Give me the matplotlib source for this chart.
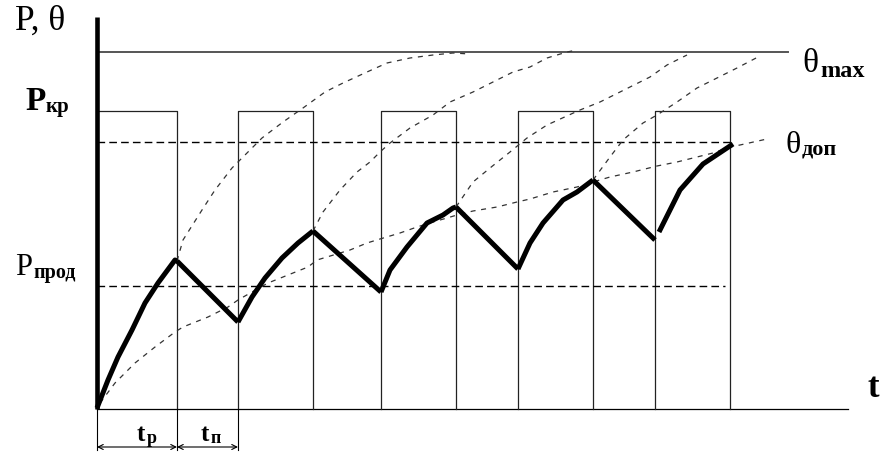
import numpy as np
import matplotlib
matplotlib.use("Agg")
import matplotlib.pyplot as plt

plt.rcParams['font.family'] = ['Liberation Serif', 'DejaVu Serif']

# levels (t measured from origin, theta upward from the t axis)
P_kr = 298
P_prod = 123
theta_max = 357
theta_dop = 267

# pulse edges: (on, off)
pulses = [(0, 80), (141, 216), (284, 359), (421, 496), (558, 633)]

# thick temperature curve, heating / cooling pieces
heat1_t = [0, 11, 21, 35, 48, 61, 78, 80]
heat1_v = [1, 29, 52, 79, 106, 126, 149, 148]
cool1_t = [80, 141]
cool1_v = [148, 87]
heat2_t = [141, 155, 168, 185, 201, 216]
heat2_v = [87, 112, 131, 151, 166, 178]
cool2_t = [216, 284]
cool2_v = [178, 117]
heat3_t = [284, 293, 310, 330, 346, 356, 359]
heat3_v = [117, 139, 162, 186, 194, 201, 202]
cool3_t = [359, 421]
cool3_v = [202, 140]
heat4_t = [421, 433, 446, 466, 480, 496]
heat4_v = [140, 166, 186, 209, 217, 229]
cool4_t = [496, 558]
cool4_v = [229, 169]
heat5_t = [562, 583, 606, 636]
heat5_v = [177, 219, 245, 265]

# dashed continuation curves (heating without switching off)
curveA_t = [80, 86, 105, 118, 135, 143, 165, 186, 206, 228, 246, 270, 290, 313, 336, 356, 373]
curveA_v = [148, 169, 199, 219, 241, 249, 271, 287, 301, 317, 326, 337, 346, 351, 354, 356, 355]
curveB_t = [216, 226, 243, 260, 273, 283, 293, 313, 336, 353, 376, 396, 416, 433, 450, 470, 480]
curveB_v = [178, 197, 219, 237, 247, 257, 266, 281, 294, 307, 317, 327, 337, 342, 351, 357, 359]
curveC_t = [359, 376, 393, 413, 430, 450, 483, 503, 523, 553, 570, 590]
curveC_v = [202, 227, 241, 257, 271, 284, 299, 307, 317, 332, 344, 354]
curveD_t = [496, 513, 526, 546, 560, 580, 600, 620, 640, 661]
curveD_v = [229, 252, 269, 286, 294, 307, 321, 331, 341, 352]
# slow curve from the origin
curveE_t = [3, 18, 38, 58, 78, 86, 111, 131, 141, 155, 171, 191, 211, 220, 253, 270, 283,
            303, 320, 336, 350, 360, 376, 400, 420, 433, 456, 480, 496, 513, 536, 560,
            580, 600, 616, 633, 643, 670]
curveE_v = [6, 26, 46, 62, 77, 82, 92, 102, 109, 117, 126, 134, 142, 149, 159, 166, 170,
            176, 182, 187, 191, 194, 198, 202, 207, 210, 217, 222, 227, 232, 237, 243,
            247, 252, 256, 262, 264, 270]

fig = plt.figure(figsize=(8.88, 4.59), dpi=100)
ax = fig.add_axes([0, 0, 1, 1])
ax.set_xlim(-97, 791)
ax.set_ylim(-50, 409)
ax.axis('off')

# axes
ax.plot([0, 0], [0, 392], color='black', lw=3.3, solid_capstyle='butt', zorder=5)
ax.plot([0, 751], [0, 0], color='black', lw=0.9)

# theta max level
ax.plot([0, 691], [theta_max, theta_max], color='#555555', lw=1.4)

# pulses
for a, b in pulses:
    ax.plot([a, a, b, b], [0, P_kr, P_kr, 0], color='#222222', lw=0.9)

# horizontal dashed levels
ax.plot([0, 633], [theta_dop, theta_dop], color='black', lw=1.0, linestyle=(0, (5.5, 3)))
ax.plot([0, 628], [P_prod, P_prod], color='black', lw=1.0, linestyle=(0, (5.5, 3)))

# dashed curves
for ct, cv in [(curveA_t, curveA_v), (curveB_t, curveB_v), (curveC_t, curveC_v),
               (curveD_t, curveD_v), (curveE_t, curveE_v)]:
    ax.plot(ct, cv, color='#333333', lw=0.9, linestyle=(0, (4, 4.5)))

# thick curve
for ct, cv in [(heat1_t, heat1_v), (cool1_t, cool1_v), (heat2_t, heat2_v), (cool2_t, cool2_v),
               (heat3_t, heat3_v), (cool3_t, cool3_v), (heat4_t, heat4_v), (cool4_t, cool4_v),
               (heat5_t, heat5_v)]:
    ax.plot(ct, cv, color='black', lw=3.6, solid_capstyle='butt', solid_joinstyle='round', zorder=6)

# dimension lines for t_p and t_n
for xv in [0, 80, 141]:
    ax.plot([xv, xv], [0, -41], color='black', lw=0.8)
for a, b in [(0, 80), (80, 141)]:
    ax.annotate('', xy=(a, -38), xytext=(b, -38),
                arrowprops=dict(arrowstyle='<->', lw=0.8, shrinkA=0, shrinkB=0, mutation_scale=9))

# labels
ax.text(-82, 379, 'P, θ', fontsize=25.5, ha='left', va='baseline')
ax.text(-72, 299, 'P', fontsize=24, fontweight='bold', ha='left', va='baseline')
ax.text(-51, 297, 'кр', fontsize=15, fontweight='bold', ha='left', va='baseline')
ax.text(-82, 134, 'P', fontsize=22, ha='left', va='baseline')
ax.text(-64, 131, 'прод', fontsize=14.5, fontweight='bold', ha='left', va='baseline')
ax.text(705, 337, 'θ', fontsize=24, ha='left', va='baseline')
ax.text(723, 332, 'max', fontsize=17.5, fontweight='bold', ha='left', va='baseline')
ax.text(688, 256, 'θ', fontsize=23, ha='left', va='baseline')
ax.text(705, 254, 'доп', fontsize=16, fontweight='bold', ha='left', va='baseline')
ax.text(770, 12, 't', fontsize=25, fontweight='bold', ha='left', va='baseline')
ax.text(40, -32, 't', fontsize=18, fontweight='bold', ha='left', va='baseline')
ax.text(50, -34, 'р', fontsize=13, fontweight='bold', ha='left', va='baseline')
ax.text(104, -32, 't', fontsize=18, fontweight='bold', ha='left', va='baseline')
ax.text(114, -34, 'п', fontsize=13, fontweight='bold', ha='left', va='baseline')

fig.savefig('out.png', dpi=100)
